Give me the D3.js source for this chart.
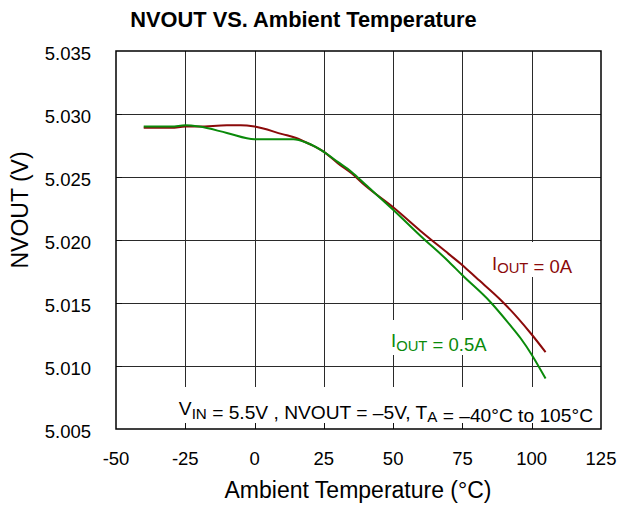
<!DOCTYPE html>
<html>
<head>
<meta charset="utf-8">
<script src="https://cdn.jsdelivr.net/npm/d3@7/dist/d3.min.js"></script>
<style>
  html, body { margin: 0; padding: 0; background: #fff; }
  svg { display: block; font-family: "Liberation Sans", Arial, sans-serif; }
</style>
</head>
<body>
<svg id="chart" width="618" height="508"></svg>
<script>
// Measured output voltage vs. ambient temperature, two load currents
const tempNoLoad  = [-40, -30, -25, -20, -10, -5, 0, 10, 15, 20, 25, 30, 35, 40, 50, 60, 70, 75, 80, 89, 95, 100, 105];
const voutNoLoad  = [5.0289, 5.0289, 5.0290, 5.0290, 5.0291, 5.0291, 5.0290, 5.0284, 5.0281, 5.0276, 5.0270, 5.0261, 5.0253, 5.0243, 5.0226, 5.0207, 5.0189, 5.0180, 5.0170, 5.0152, 5.0138, 5.0125, 5.0111];
const tempHalfAmp = [-40, -30, -25, -20, -10, 0, 14, 19, 25, 30, 35, 40, 50, 60, 70, 75, 85, 92, 96, 100, 105];
const voutHalfAmp = [5.0290, 5.0290, 5.0291, 5.0290, 5.0285, 5.0280, 5.0280, 5.0277, 5.0270, 5.0262, 5.0254, 5.0244, 5.0224, 5.0203, 5.0183, 5.0172, 5.0151, 5.0133, 5.0122, 5.0109, 5.0090];

const xTicks = [-50, -25, 0, 25, 50, 75, 100, 125];
const yTicks = [5.005, 5.010, 5.015, 5.020, 5.025, 5.030, 5.035];

const colorNoLoad = "#8b0a0a";
const colorHalfAmp = "#0a8a0a";

const svg = d3.select("#chart");
const plotL = 116, plotR = 601, plotT = 51, plotB = 429;

const x = d3.scaleLinear().domain([-50, 125]).range([plotL, plotR]);
const y = d3.scaleLinear().domain([5.005, 5.035]).range([plotB, plotT]);
const px = v => Math.round(v) + 0.5;

// grid
const grid = svg.append("g");
grid.selectAll("line.v").data(xTicks.slice(1, -1)).enter().append("line")
  .attr("x1", d => px(x(d))).attr("x2", d => px(x(d)))
  .attr("y1", plotT).attr("y2", plotB)
  .attr("stroke", "#2a2a2a").attr("stroke-width", 1);
grid.selectAll("line.h").data(yTicks.slice(1, -1)).enter().append("line")
  .attr("y1", d => px(y(d))).attr("y2", d => px(y(d)))
  .attr("x1", plotL).attr("x2", plotR)
  .attr("stroke", "#2a2a2a").attr("stroke-width", 1);

// white backings for in-plot text
const boxes = [
  {x0: 172, x1: 600, y0: 387, y1: 423},
  {x0: 488, x1: 577, y0: 242, y1: 277},
  {x0: 386, x1: 490, y0: 320, y1: 355}
];
svg.append("g").selectAll("rect").data(boxes).enter().append("rect")
  .attr("x", d => d.x0).attr("y", d => d.y0)
  .attr("width", d => d.x1 - d.x0).attr("height", d => d.y1 - d.y0)
  .attr("fill", "#fff");

// inner ticks
const ticks = svg.append("g").attr("stroke", "#111").attr("stroke-width", 1);
ticks.selectAll("line.xt").data(xTicks.slice(1, -1)).enter().append("line")
  .attr("x1", d => px(x(d))).attr("x2", d => px(x(d)))
  .attr("y1", plotB).attr("y2", plotB - 6);
ticks.selectAll("line.yt").data(yTicks.slice(1, -1)).enter().append("line")
  .attr("y1", d => px(y(d))).attr("y2", d => px(y(d)))
  .attr("x1", plotL).attr("x2", plotL + 6);

// frame
svg.append("rect")
  .attr("x", plotL).attr("y", plotT)
  .attr("width", plotR - plotL).attr("height", plotB - plotT)
  .attr("fill", "none").attr("stroke", "#000").attr("stroke-width", 1.5);

// tick labels
svg.append("g").selectAll("text").data(xTicks).enter().append("text")
  .attr("x", d => x(d)).attr("y", 465)
  .attr("text-anchor", "middle").attr("font-size", 18.5).attr("fill", "#000")
  .text(d => d);
svg.append("g").selectAll("text").data(yTicks).enter().append("text")
  .attr("x", 91).attr("y", d => y(d) + 8.5)
  .attr("text-anchor", "end").attr("font-size", 18.5).attr("fill", "#000")
  .text(d => d3.format(".3f")(d));

// curves
const line = d3.line().x(d => x(d[0])).y(d => y(d[1])).curve(d3.curveMonotoneX);
svg.append("path").datum(d3.zip(tempNoLoad, voutNoLoad))
  .attr("d", line).attr("fill", "none")
  .attr("stroke", colorNoLoad).attr("stroke-width", 2);
svg.append("path").datum(d3.zip(tempHalfAmp, voutHalfAmp))
  .attr("d", line).attr("fill", "none")
  .attr("stroke", colorHalfAmp).attr("stroke-width", 2);

// titles
svg.append("text").attr("x", 303.5).attr("y", 27)
  .attr("text-anchor", "middle").attr("font-size", 21.8).attr("font-weight", "bold")
  .text("NVOUT VS. Ambient Temperature");
svg.append("text").attr("x", 358).attr("y", 498)
  .attr("text-anchor", "middle").attr("font-size", 23)
  .text("Ambient Temperature (°C)");
svg.append("text").attr("transform", "translate(28,210) rotate(-90)")
  .attr("text-anchor", "middle").attr("font-size", 23)
  .text("NVOUT (V)");

// text with subscripts
function subText(xPos, yPos, parts, size, subSize, fill, anchor) {
  const t = svg.append("text").attr("x", xPos).attr("y", yPos)
    .attr("font-size", size).attr("fill", fill).attr("text-anchor", anchor || "start");
  parts.forEach(p => {
    if (p.sub) {
      t.append("tspan").attr("font-size", subSize).attr("dy", 3.5).text(p.sub);
      t.append("tspan").attr("dy", -3.5).text("");
    } else {
      t.append("tspan").text(p.t);
    }
  });
  return t;
}

subText(492, 269.5, [{t: "I"}, {sub: "OUT"}, {t: " = 0A"}], 18.5, 14.8, colorNoLoad);
subText(391, 347.3, [{t: "I"}, {sub: "OUT"}, {t: " = 0.5A"}], 18.5, 14.8, colorHalfAmp);
subText(593, 415, [{t: "V"}, {sub: "IN"}, {t: " = 5.5V , NVOUT = –5V, T"}, {sub: "A"}, {t: " = –40°C to 105°C"}], 19.2, 15.2, "#000", "end");
</script>
</body>
</html>
